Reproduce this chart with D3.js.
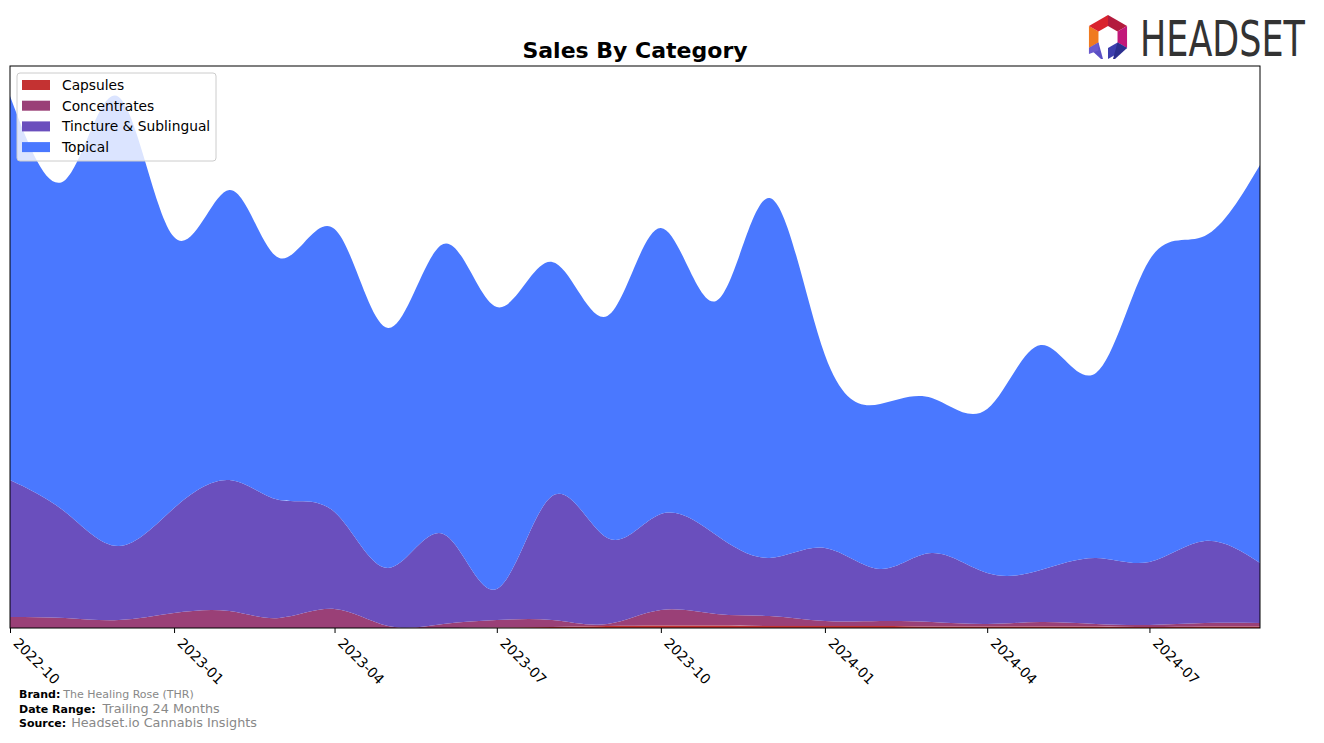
<!DOCTYPE html>
<html>
<head>
<meta charset="utf-8">
<script src="https://cdn.jsdelivr.net/npm/d3@7"></script>
<style>
  body { margin: 0; background: #fff; }
  svg { display: block; font-family: "DejaVu Sans", sans-serif; }
</style>
</head>
<body>
<svg id="chart" width="1324" height="743"></svg>
<script>
// ---- data (arbitrary sales units) ----
const months = ["2022-10","2022-11","2022-12","2023-01","2023-02","2023-03","2023-04","2023-05","2023-06","2023-07","2023-08","2023-09","2023-10","2023-11","2023-12","2024-01","2024-02","2024-03","2024-04","2024-05","2024-06","2024-07","2024-08","2024-09"];
const capsules      = [0,0,0,0,0,0,0,0,0,0.5,1,2,2.5,2.5,2,2,2,1.5,1.5,1.5,1.5,1,1.5,1.5];
const concentrates  = [11,10,8,15,17,10,19,2,4,7.5,7,2,15.5,11.5,10,5,5,4.5,2.5,4.5,2.5,2,3.5,3.5];
const tincture      = [137,106,74,105,131,118,97,58,90,31,124,86,96,79,58,73,52,69,51,52,66,63,82,60];
const topical       = [384,332,449,271,290,242,283,240,290,282,234,222,286,234,360,193,165,155,164,225,185,302,305,398];
const tickLabels    = ["2022-10","2023-01","2023-04","2023-07","2023-10","2024-01","2024-04","2024-07"];
const seriesNames   = ["Capsules","Concentrates","Tincture & Sublingual","Topical"];
const seriesColors  = ["#c43232","#9a4077","#6a4fbd","#4a78ff"];
const yMax = 562;

const parse = d3.timeParse("%Y-%m");
const rows = months.map((m, i) => ({
  date: parse(m),
  "Capsules": capsules[i],
  "Concentrates": concentrates[i],
  "Tincture & Sublingual": tincture[i],
  "Topical": topical[i]
}));

const svg = d3.select("#chart");
const L = 10, R = 1260, T = 66, B = 628;

const x = d3.scaleTime().domain([parse(months[0]), parse(months[months.length-1])]).range([L, R]);
const y = d3.scaleLinear().domain([0, yMax]).range([B, T]);

const stack = d3.stack().keys(seriesNames);
const layers = stack(rows);

const area = d3.area()
  .x(d => x(d.data.date))
  .y0(d => y(d[0]))
  .y1(d => y(d[1]))
  .curve(d3.curveNatural);

svg.append("defs").append("clipPath").attr("id", "clip")
  .append("rect").attr("x", L).attr("y", T).attr("width", R - L).attr("height", B - T);

svg.append("g").attr("clip-path", "url(#clip)")
  .selectAll("path").data(layers).join("path")
  .attr("d", area)
  .attr("fill", (d, i) => seriesColors[i]);

// frame
svg.append("rect").attr("x", L).attr("y", T).attr("width", R - L).attr("height", B - T)
  .attr("fill", "none").attr("stroke", "#000").attr("stroke-width", 1);

// x axis
const tickDates = tickLabels.map(parse);
const xAxis = d3.axisBottom(x).tickValues(tickDates).tickSize(5).tickFormat(d3.timeFormat("%Y-%m"));
const gx = svg.append("g").attr("transform", `translate(0,${B})`).call(xAxis)
  .attr("font-family", "'DejaVu Sans', sans-serif");
gx.select(".domain").remove();
gx.selectAll(".tick line").attr("stroke", "#000");
gx.selectAll(".tick text")
  .attr("font-size", 14)
  .attr("fill", "#000")
  .attr("text-anchor", "start")
  .attr("y", 0).attr("dy", 0)
  .attr("transform", "translate(2,16) rotate(45)");

// title
svg.append("text").attr("x", 635).attr("y", 58).attr("text-anchor", "middle")
  .attr("font-size", 22).attr("font-weight", "bold").text("Sales By Category");

// legend
const lg = svg.append("g").attr("transform", "translate(17,73)");
lg.append("rect").attr("width", 199).attr("height", 88).attr("rx", 3)
  .attr("fill", "#fff").attr("fill-opacity", 0.8).attr("stroke", "#cccccc");
seriesNames.forEach((name, i) => {
  const yy = 12 + i * 20.7;
  lg.append("rect").attr("x", 5).attr("y", yy - 5).attr("width", 28).attr("height", 10)
    .attr("fill", seriesColors[i]);
  lg.append("text").attr("x", 45).attr("y", yy + 5).attr("font-size", 13.8).attr("fill", "#000").text(name);
});

// footer
const foot = [
  ["Brand:", "The Healing Rose (THR)", 698, 11, 3],
  ["Date Range:", "Trailing 24 Months", 713, 12.8, 7],
  ["Source:", "Headset.io Cannabis Insights", 727, 12.8, 5]
];
foot.forEach(([k, v, yy, fs, gap]) => {
  const t = svg.append("text").attr("x", 19).attr("y", yy);
  t.append("tspan").attr("font-size", 11).attr("font-weight", "bold").attr("fill", "#000").text(k);
  t.append("tspan").attr("font-size", fs).attr("fill", "#888").attr("dx", gap).text(v);
});

// logo
const logo = svg.append("g").attr("transform", "translate(1086,15)");
const cx = 22, cy = 22;
const pts = d3.range(6).map(k => {
  const a = Math.PI / 180 * (-90 + 60 * k);
  return [cx + 22 * Math.cos(a), cy + 22 * Math.sin(a), cx + 11 * Math.cos(a), cy + 11 * Math.sin(a)];
});
[[0,1,"#b31b3d"],[1,2,"#c2187a"],[2,3,"#3d3fae"],[4,5,"#f07a1f"],[5,0,"#d9232e"]].forEach(([a, b, c]) => {
  const p = pts[a], q = pts[b];
  logo.append("path").attr("d", `M${p[0]},${p[1]}L${q[0]},${q[1]}L${q[2]},${q[3]}L${p[2]},${p[3]}Z`).attr("fill", c);
});
logo.append("path").attr("d", `M${pts[2][0]},${pts[2][1]}L${pts[2][2]},${pts[2][3]}L${cx+5},${cy+22}L${cx+7},${cy+22}Z`).attr("fill", "#2b2f8f");
logo.append("path").attr("d", `M${pts[4][0]},${pts[4][1]}L${pts[4][2]},${pts[4][3]}L${cx-5},${cy+22}L${cx-7},${cy+22}Z`).attr("fill", "#5a4fc4");
logo.append("path").attr("d", `M${pts[4][0]},${pts[4][1]}L${pts[4][2]},${pts[4][3]}L${pts[4][2]},${pts[4][3]+8}L${pts[4][0]},${pts[4][1]+6}Z`).attr("fill", "#6a5acd");
const logoText = svg.append("g").attr("transform", "translate(1140,56) scale(0.7,1)");
logoText.append("text").attr("x", 0).attr("y", 0).attr("font-size", 50)
  .attr("font-family", "'DejaVu Sans', sans-serif")
  .attr("fill", "#333").text("HEADSET");
</script>
</body>
</html>
